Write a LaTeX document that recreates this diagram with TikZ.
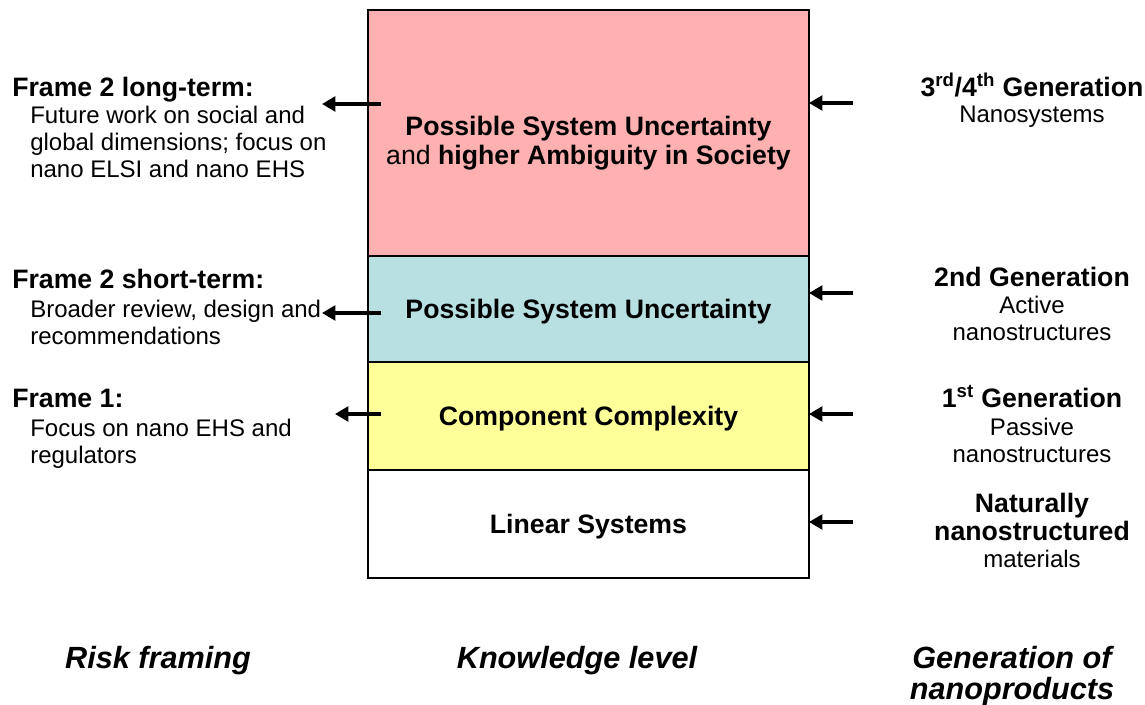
\documentclass[tikz,border=0pt]{standalone}
\usepackage{fontspec}
\setmainfont{Liberation Sans}
\usetikzlibrary{arrows.meta, positioning}
\definecolor{riskred}{HTML}{FFB0B0}
\definecolor{riskblue}{HTML}{B8E0E2}
\definecolor{riskyellow}{HTML}{FFFF99}

\begin{document}
\begin{tikzpicture}[x=0.75pt, y=-0.75pt,
    layer/.style={rectangle, draw=black, line width=1pt, minimum width=330.75pt, outer sep=0pt, inner sep=0pt, text depth=0pt, align=center, font=\fontsize{20}{21.75}\selectfont\bfseries},
    head/.style={inner sep=0pt, font=\fontsize{20}{21}\selectfont\bfseries},
    body/.style={inner sep=0pt, font=\fontsize{18}{20.25}\selectfont},
    axis/.style={inner sep=0pt, align=center, font=\fontsize{23}{23.25}\selectfont\bfseries\itshape},
    arrow/.style={-{Triangle[length=10pt, width=11pt]}, line width=3pt}
]
\useasboundingbox (0,0) rectangle (1145,705);

% Knowledge levels
\node[layer, fill=riskred, minimum height=184.5pt, text height=47pt, anchor=north west] (ambig) at (368,10) {Possible System Uncertainty\\{\mdseries and} higher Ambiguity in Society};
\node[layer, fill=riskblue, minimum height=79.5pt, below=0pt of ambig] (sysunc) {Possible System Uncertainty};
\node[layer, fill=riskyellow, minimum height=81pt, below=0pt of sysunc] (compcx) {Component Complexity};
\node[layer, fill=white, minimum height=81pt, below=0pt of compcx] (linsys) {Linear Systems};

% Risk framing (base = last line)
\node[head, anchor=base west] (frameLong) at (12,97) {Frame 2 long-term:};
\node[body, anchor=base west, align=left] (frameLongTxt) at (30,178) {Future work on social and\\global dimensions; focus on\\nano ELSI and nano EHS};
\node[head, anchor=base west] (frameShort) at (12,289) {Frame 2 short-term:};
\node[body, anchor=base west, align=left] (frameShortTxt) at (30,345) {Broader review, design and\\recommendations};
\node[head, anchor=base west] (frameOne) at (12,407) {Frame 1:};
\node[body, anchor=base west, align=left] (frameOneTxt) at (30,463) {Focus on nano EHS and\\regulators};

% Generations
\node[head, anchor=base] (genFour) at (1032,97) {3\textsuperscript{rd}/4\textsuperscript{th} Generation};
\node[body, anchor=base, align=center] (genFourTxt) at (1032,123) {Nanosystems};
\node[head, anchor=base] (genTwo) at (1032,287) {2nd Generation};
\node[body, anchor=base, align=center] (genTwoTxt) at (1032,341) {Active\\nanostructures};
\node[head, anchor=base] (genOne) at (1032,408) {1\textsuperscript{st} Generation};
\node[body, anchor=base, align=center] (genOneTxt) at (1032,462) {Passive\\nanostructures};
\node[head, anchor=base, align=center] (genNat) at (1032,540) {Naturally\\nanostructured};
\node[body, anchor=base, align=center] (genNatTxt) at (1032,567) {materials};

% Column titles
\node[axis, anchor=base] (framing) at (158,668) {Risk framing};
\node[axis, anchor=base] (knowledge) at (577,668) {Knowledge level};
\node[axis, anchor=base] (generation) at (1012,699) {Generation of\\nanoproducts};

% Arrows to the risk framing
\coordinate (tipLong) at (322,104);
\coordinate (tipShort) at (322,313);
\coordinate (tipOne) at (335,414);
\draw[arrow] ([xshift=9.75pt]ambig.west |- tipLong) -- (tipLong);
\draw[arrow] ([xshift=9.75pt]sysunc.west |- tipShort) -- (tipShort);
\draw[arrow] ([xshift=9.75pt]compcx.west |- tipOne) -- (tipOne);

% Arrows from the generations
\coordinate (tailFour) at (853,103);
\coordinate (tailTwo) at (853,293);
\coordinate (tailOne) at (853,414);
\coordinate (tailNat) at (853,522);
\draw[arrow] (tailFour) -- (ambig.east |- tailFour);
\draw[arrow] (tailTwo) -- (sysunc.east |- tailTwo);
\draw[arrow] (tailOne) -- (compcx.east |- tailOne);
\draw[arrow] (tailNat) -- (linsys.east |- tailNat);
\end{tikzpicture}
\end{document}
